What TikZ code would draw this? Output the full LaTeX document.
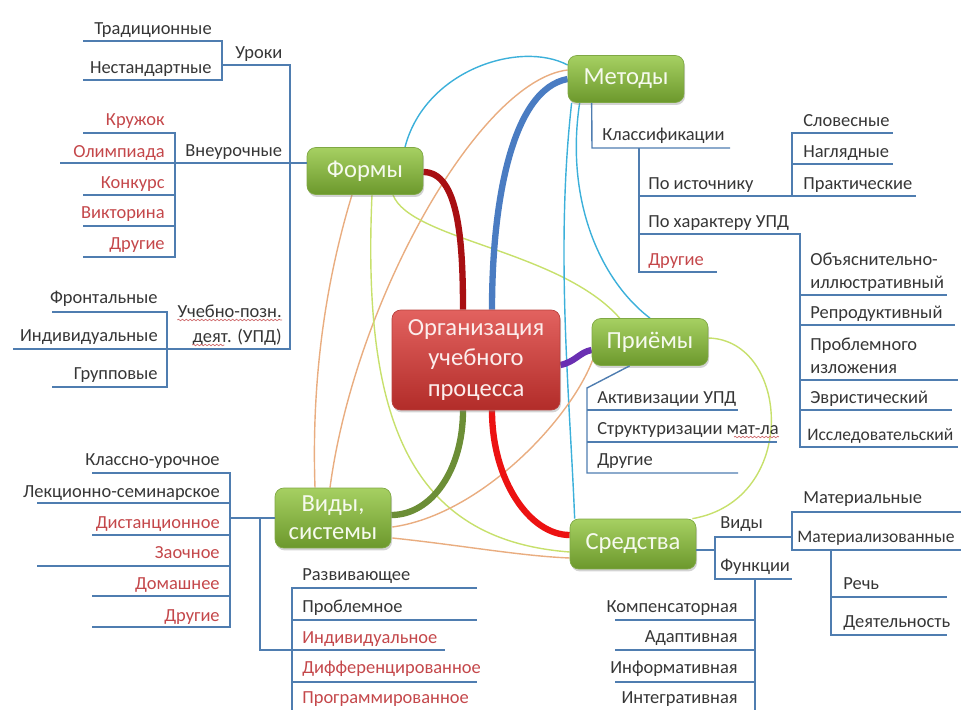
\documentclass[tikz,border=0pt]{standalone}
\usepackage{fontspec}
\setmainfont{Carlito}
\usetikzlibrary{calc,shadows,decorations.pathmorphing}
\pgfdeclarelayer{bg}
\pgfsetlayers{bg,main}

\definecolor{branchblue}{HTML}{4F7DB0}
\definecolor{txtgray}{HTML}{363636}
\definecolor{txtred}{HTML}{C4474A}
\definecolor{boxtop}{HTML}{A6D062}
\definecolor{boxbot}{HTML}{6C982C}
\definecolor{boxedge}{HTML}{7FA844}
\definecolor{boxtext}{HTML}{F6FAEE}
\definecolor{roottop}{HTML}{E2625F}
\definecolor{rootbot}{HTML}{B22C29}
\definecolor{rootedge}{HTML}{B8403C}
\definecolor{roottext}{HTML}{FCEDEC}
\definecolor{cyanline}{HTML}{3CB0DA}
\definecolor{tanline}{HTML}{E9AD80}
\definecolor{limeline}{HTML}{C7E06C}
\definecolor{darkredline}{HTML}{A80F12}
\definecolor{redline}{HTML}{EC1212}
\definecolor{blueline}{HTML}{4A7CC2}
\definecolor{oliveline}{HTML}{6C8E36}
\definecolor{purpleline}{HTML}{6A2FB2}

\tikzset{
  topic/.style={rectangle, rounded corners=5pt, draw=boxedge, top color=boxtop, bottom color=boxbot,
    text=boxtext, align=center, font=\fontsize{14}{16}\selectfont, minimum width=2.32cm,
    minimum height=0.94cm, inner sep=2pt,
    drop shadow={shadow xshift=0.6pt, shadow yshift=-1.4pt, opacity=0.35}},
  rootbox/.style={topic, draw=rootedge, top color=roottop, bottom color=rootbot, text=roottext,
    minimum width=3.36cm, minimum height=2cm, font=\fontsize{14}{17.5}\selectfont},
  lbl/.style={inner sep=0pt, text=txtgray, font=\fontsize{10.5}{12}\selectfont},
  redlbl/.style={lbl, text=txtred},
  edgelbl/.style={lbl, font=\fontsize{10}{12}\selectfont},
  branch/.style={draw=branchblue, line width=0.8pt},
  link/.style={line width=0.8pt},
  bond/.style={line width=3.6pt},
  typo/.style={draw=txtred!80, line width=0.4pt, decorate,
    decoration={snake, amplitude=0.45pt, segment length=2.2pt}}
}

\begin{document}
\begin{tikzpicture}[x=0.02cm, y=-0.02cm]
\useasboundingbox (0,0) rectangle (961,710);

% main topics
\node[rootbox] (org) at (476,360) {Организация\\учебного\\процесса};
\node[topic] (formy) at (365,171) {Формы};
\node[topic] (metody) at (626,79) {Методы};
\node[topic] (priemy) at (650,342) {Приёмы};
\node[topic, minimum width=2.52cm, minimum height=1.0cm] (sredstva) at (633,544) {Средства};
\node[topic, minimum height=1.2cm] (vidy) at (333,518) {Виды,\\системы};

% Формы
\node[lbl, anchor=base west] (uroki) at (235,58) {Уроки};
\node[lbl, anchor=base east] (trad) at (212,34) {Традиционные};
\node[lbl, anchor=base east] (nestand) at (212,73) {Нестандартные};
\node[lbl, anchor=base west] (vneur) at (185,156) {Внеурочные};
\node[redlbl, anchor=base east] (kruzhok) at (165,125) {Кружок};
\node[redlbl, anchor=base east] (olimp) at (165,157) {Олимпиада};
\node[redlbl, anchor=base east] (konkurs) at (165,188) {Конкурс};
\node[redlbl, anchor=base east] (viktor) at (165,218) {Викторина};
\node[redlbl, anchor=base east] (drugie1) at (165,249) {Другие};
\node[lbl, anchor=base east] (upd1) at (282,317) {Учебно-позн.};
\node[lbl, anchor=base east] (upd2) at (282,342) {деят. (УПД)};
\node[lbl, anchor=base east] (front) at (158,303) {Фронтальные};
\node[lbl, anchor=base east] (individ) at (158,341) {Индивидуальные};
\node[lbl, anchor=base east] (grupp) at (158,379) {Групповые};

% Методы
\node[lbl, anchor=base west] (klass) at (602,140) {Классификации};
\node[lbl, anchor=base west] (poist) at (648,189) {По источнику};
\node[lbl, anchor=base west] (poharakt) at (648,227) {По характеру УПД};
\node[redlbl, anchor=base west] (drugie2) at (648,265) {Другие};
\node[lbl, anchor=base west] (slov) at (803,126) {Словесные};
\node[lbl, anchor=base west] (nagl) at (803,157) {Наглядные};
\node[lbl, anchor=base west] (prakt) at (803,189) {Практические};
\node[lbl, anchor=base west] (obyasn) at (810,265) {Объяснительно-};
\node[lbl, anchor=base west] (illustr) at (810,288) {иллюстративный};
\node[lbl, anchor=base west] (reprod) at (810,318) {Репродуктивный};
\node[lbl, anchor=base west] (probl1) at (810,350) {Проблемного};
\node[lbl, anchor=base west] (probl2) at (810,373) {изложения};
\node[lbl, anchor=base west] (evrist) at (810,403) {Эвристический};
\node[edgelbl, anchor=base west] (issled) at (807,440) {Исследовательский};

% Приёмы
\node[lbl, anchor=base west] (aktiv) at (597,403) {Активизации УПД};
\node[lbl, anchor=base west] (strukt) at (597,434) {Структуризации мат-ла};
\node[lbl, anchor=base west] (drugie3) at (597,465) {Другие};

% Средства
\node[lbl, anchor=base west] (vidysr) at (720,528) {Виды};
\node[lbl, anchor=base west] (funkc) at (720,571) {Функции};
\node[lbl, anchor=base west] (mater) at (803,503) {Материальные};
\node[edgelbl, anchor=base west] (materiz) at (797,542) {Материализованные};
\node[lbl, anchor=base west] (rech) at (843,589) {Речь};
\node[lbl, anchor=base west] (deyat) at (843,627) {Деятельность};
\node[lbl, anchor=base east] (kompens) at (738,612) {Компенсаторная};
\node[lbl, anchor=base east] (adapt) at (738,642) {Адаптивная};
\node[lbl, anchor=base east] (inform) at (738,673) {Информативная};
\node[lbl, anchor=base east] (integr) at (738,703) {Интегративная};

% Виды, системы
\node[lbl, anchor=base east] (klassur) at (220,465) {Классно-урочное};
\node[lbl, anchor=base east] (lekc) at (220,497) {Лекционно-семинарское};
\node[redlbl, anchor=base east] (distanc) at (220,528) {Дистанционное};
\node[redlbl, anchor=base east] (zaochn) at (220,558) {Заочное};
\node[redlbl, anchor=base east] (domash) at (220,589) {Домашнее};
\node[redlbl, anchor=base east] (drugie4) at (220,621) {Другие};
\node[lbl, anchor=base west] (razv) at (302,580) {Развивающее};
\node[lbl, anchor=base west] (problem) at (302,612) {Проблемное};
\node[redlbl, anchor=base west] (indiv) at (302,643) {Индивидуальное};
\node[redlbl, anchor=base west] (differ) at (302,673) {Дифференцированное};
\node[redlbl, anchor=base west] (progr) at (302,703) {Программированное};

% spell-check marks
\draw[typo] ($(upd1.base west)+(0,3)$) -- ($(upd1.base east)+(0,3)$);
\draw[typo] ($(upd2.base west)+(0,3)$) -- ++(32,0);
\draw[typo] ($(strukt.base east)+(-45,3)$) -- ($(strukt.base east)+(0,3)$);

% tree lines
\draw[branch] ($(formy.west)+(0,-8)$) -- (60,163);
\draw[branch] (222,65) -- (290,65) -- (290,349) -- (13,349);
\draw[branch] (83,41) -- (222,41) -- (222,80) -- (83,80);
\draw[branch] (83,133) -- (175,133) -- (175,257) -- (83,257);
\draw[branch] (83,195) -- (175,195);
\draw[branch] (83,226) -- (175,226);
\draw[branch] (52,312) -- (167,312) -- (167,387) -- (52,387);

\draw[branch] ($(metody.south west)+(24,0)$) -- (592,148) -- (730,148);
\draw[branch] (639,148) -- (639,272) -- (717,272);
\draw[branch] (639,196) -- (916,196);
\draw[branch] (639,234) -- (800,234) -- (800,447) -- (958,447);
\draw[branch] (792,196) -- (792,133) -- (893,133);
\draw[branch] (792,164) -- (893,164);
\draw[branch] (800,295) -- (947,295);
\draw[branch] (800,325) -- (955,325);
\draw[branch] (800,380) -- (958,380);
\draw[branch] (800,410) -- (952,410);

\draw[branch] ($(priemy.south west)+(38,0)$) -- (587,388) -- (587,473) -- (738,473);
\draw[branch] (587,410) -- (738,410);
\draw[branch] (587,442) -- (777,442);

\draw[branch] ($(sredstva.east)+(0,6)$) -- (715,550);
\draw[branch] (792,537) -- (715,537) -- (715,579) -- (792,579);
\draw[branch] (961,512) -- (792,512) -- (792,550) -- (961,550);
\draw[branch] (831,550) -- (831,635) -- (947,635);
\draw[branch] (831,597) -- (947,597);
\draw[branch] (755,579) -- (755,712);
\draw[branch] (615,620) -- (755,620);
\draw[branch] (615,650) -- (755,650);
\draw[branch] (615,682) -- (755,682);

\draw[branch] (vidy.west) -- (230,518);
\draw[branch] (92,473) -- (230,473) -- (230,627) -- (92,627);
\draw[branch] (37,503) -- (230,503);
\draw[branch] (92,535) -- (230,535);
\draw[branch] (37,566) -- (230,566);
\draw[branch] (92,596) -- (230,596);
\draw[branch] (260,518) -- (260,650) -- (445,650);
\draw[branch] (477,588) -- (292,588) -- (292,712);
\draw[branch] (292,620) -- (477,620);
\draw[branch] (292,682) -- (477,682);

\begin{pgfonlayer}{bg}
% cross links
\draw[link, cyanline] ($(formy.north)+(40,0)$) .. controls (425,70) and (520,40) .. ($(metody.west)+(0,-14)$);
\draw[link, tanline] ($(metody.west)+(0,-9)$) .. controls (480,80) and (355,300) .. ($(vidy.north)+(-3,0)$);
\draw[link, tanline] ($(formy.south)+(-13,0)$) .. controls (320,300) and (312,400) .. ($(vidy.north)+(-18,0)$);
\draw[link, limeline] ($(formy.south)+(7,0)$) .. controls (362,420) and (410,540) .. ($(sredstva.west)+(0,8)$);
\draw[link, limeline] ($(formy.south)+(28,0)$) .. controls (410,240) and (560,250) .. ($(priemy.north west)+(28,0)$);
\draw[link, cyanline] ($(metody.south west)+(4,0)$) .. controls (555,250) and (570,400) .. ($(sredstva.north west)+(5,0)$);
\draw[link, cyanline] ($(metody.south west)+(12,0)$) .. controls (565,200) and (600,280) .. (priemy.north);
\draw[link, tanline] ($(priemy.west)+(1,18)$) .. controls (570,420) and (480,515) .. ($(vidy.east)+(1,9)$);
\draw[link, tanline] ($(vidy.east)+(1,20)$) .. controls (460,545) and (520,556) .. ($(sredstva.west)+(0,14)$);
\draw[link, limeline] ($(priemy.east)+(0,-4)$) .. controls (790,340) and (800,500) .. ($(sredstva.north east)+(-4,0)$);
% main bonds
\draw[bond, darkredline] ($(formy.east)+(0,1)$) .. controls +(35,0) and +(0,-70) .. ($(org.north)+(-13,0)$);
\draw[bond, blueline] (metody.west) .. controls +(-55,10) and +(0,-110) .. ($(org.north)+(16,0)$);
\draw[bond, purpleline] ($(org.east)+(0,5)$) .. controls +(15,-3) and +(-12,2) .. ($(priemy.west)+(0,8)$);
\draw[bond, oliveline] ($(org.south)+(-13,0)$) .. controls +(0,60) and +(40,0) .. ($(vidy.east)+(0,-3)$);
\draw[bond, redline] ($(org.south)+(16,0)$) .. controls +(0,70) and +(-40,0) .. ($(sredstva.west)+(0,-9)$);
\end{pgfonlayer}
\end{tikzpicture}
\end{document}
